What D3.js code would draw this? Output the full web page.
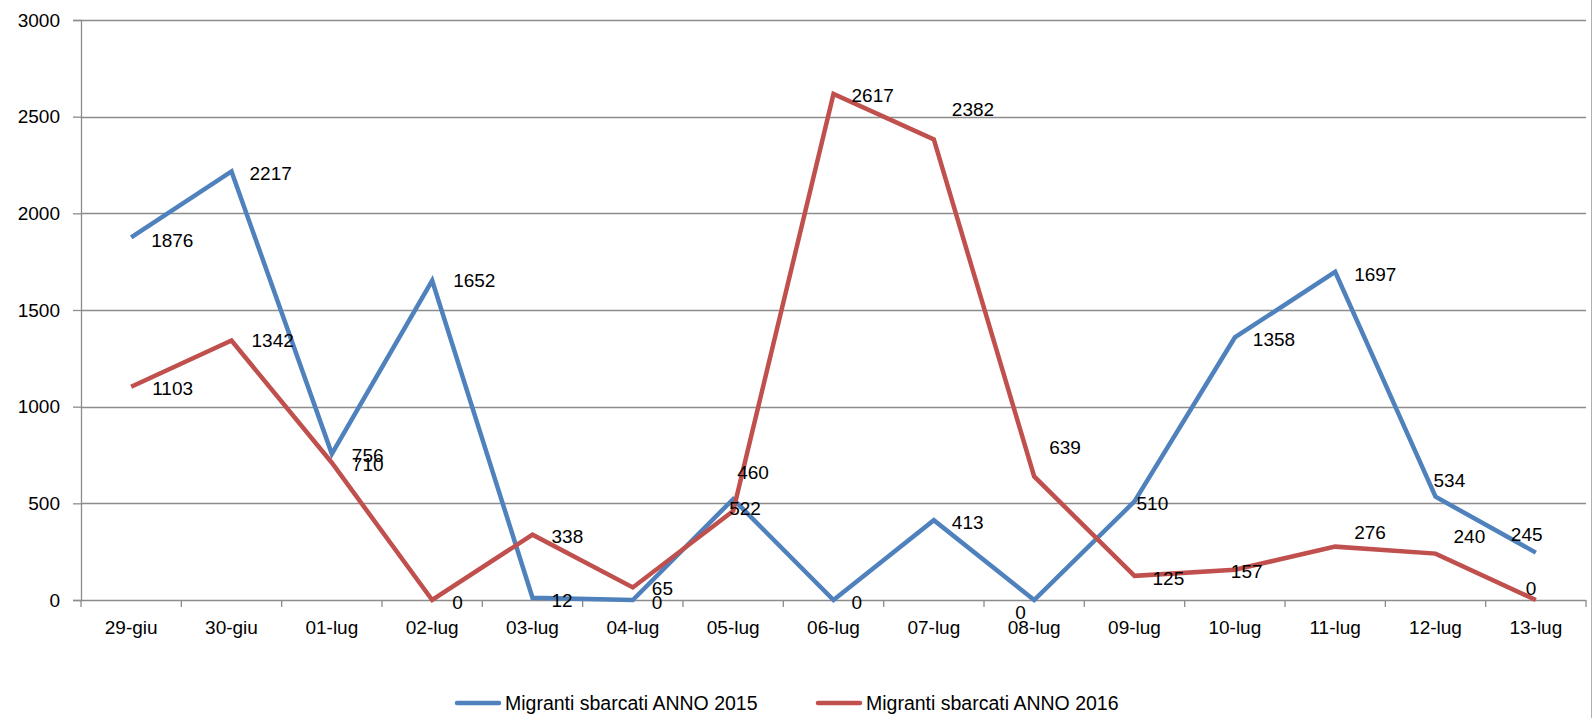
<!DOCTYPE html>
<html>
<head>
<meta charset="utf-8">
<script src="https://cdn.jsdelivr.net/npm/d3@7"></script>
<style>
  html, body { margin: 0; padding: 0; background: #fff; }
  svg { display: block; font-family: "Liberation Sans", Arial, sans-serif; }
</style>
</head>
<body>
<svg id="chart" width="1593" height="718"></svg>
<script>
// ---- data ----
const categories = ["29-giu","30-giu","01-lug","02-lug","03-lug","04-lug","05-lug","06-lug","07-lug","08-lug","09-lug","10-lug","11-lug","12-lug","13-lug"];
const series2015 = [1876, 2217, 756, 1652, 12, 0, 522, 0, 413, 0, 510, 1358, 1697, 534, 245];
const series2016 = [1103, 1342, 710, 0, 338, 65, 460, 2617, 2382, 639, 125, 157, 276, 240, 0];
const seriesNames = ["Migranti sbarcati ANNO 2015", "Migranti sbarcati ANNO 2016"];
const yTicks = [0, 500, 1000, 1500, 2000, 2500, 3000];
// label placement offsets (dx from point to label start, dy from point to label middle)
const labelDx2015 = [20, 18, 20, 21, 19, 19, -4, 18, 18, -19, 2, 18, 19, -2, -25];
const labelDy2015 = [3, 2, 1, 0, 2, 2, 9, 2, 2, 12, 2, 2, 2, -17, -18];
const labelDx2016 = [21, 20, 20, 20, 19, 19, 4, 18, 18, 15, 18, -4, 19, 18, -10];
const labelDy2016 = [1, 0, 1, 2, 2, 1, -39, 1, -30, -29, 2, 2, -14, -17, -12];

const colors = ["#4F81BD", "#C0504D"];
const gridColor = "#8c8c8c";
const axisColor = "#8c8c8c";

const svg = d3.select("#chart");
const mLeft = 81, mRight = 1586, mTop = 20, mBottom = 600;

const xBand = d3.scaleBand().domain(categories).range([mLeft, mRight]).paddingInner(0).paddingOuter(0);
const xPos = c => xBand(c) + xBand.bandwidth() / 2;
const y = d3.scaleLinear().domain([0, 3000]).range([mBottom, mTop]);

// chart border line at right
svg.append("line").attr("x1", 1591.5).attr("x2", 1591.5).attr("y1", 0).attr("y2", 718)
  .attr("stroke", "#b0b0b0").attr("stroke-width", 1);

// gridlines
svg.append("g").selectAll("line").data(yTicks.filter(d => d > 0)).join("line")
  .attr("x1", mLeft).attr("x2", mRight)
  .attr("y1", d => Math.round(y(d)) + 0.5).attr("y2", d => Math.round(y(d)) + 0.5)
  .attr("stroke", gridColor).attr("stroke-width", 1.3);

// y axis
const yAxis = svg.append("g").attr("transform", `translate(${mLeft},0)`)
  .call(d3.axisLeft(y).tickValues(yTicks).tickSize(8).tickPadding(13).tickFormat(d3.format("d")));
yAxis.select(".domain").attr("stroke", axisColor).attr("stroke-width", 1.3);
yAxis.selectAll(".tick line").attr("stroke", axisColor).attr("stroke-width", 1.3);
yAxis.selectAll(".tick text").attr("font-size", 19).attr("fill", "#000")
  .attr("font-family", "Liberation Sans, Arial, sans-serif");

// x axis baseline + boundary ticks
svg.append("line").attr("x1", mLeft).attr("x2", mRight).attr("y1", mBottom + 0.5).attr("y2", mBottom + 0.5)
  .attr("stroke", axisColor).attr("stroke-width", 1.3);
const bounds = categories.map(c => xBand(c)).concat([mRight]);
svg.append("g").selectAll("line").data(bounds).join("line")
  .attr("x1", d => d).attr("x2", d => d).attr("y1", mBottom).attr("y2", mBottom + 7)
  .attr("stroke", axisColor).attr("stroke-width", 1.3);

const xAxis = svg.append("g").attr("transform", `translate(0,${mBottom})`)
  .call(d3.axisBottom(xBand).tickSize(0).tickPadding(21));
xAxis.select(".domain").remove();
xAxis.selectAll(".tick text").attr("font-size", 19).attr("fill", "#000")
  .attr("font-family", "Liberation Sans, Arial, sans-serif");

// lines
const allSeries = [series2015, series2016];
const line = d3.line().x((d, i) => xPos(categories[i])).y(d => y(d));
allSeries.forEach((s, k) => {
  svg.append("path").datum(s).attr("d", line)
    .attr("fill", "none").attr("stroke", colors[k]).attr("stroke-width", 4.5)
    .attr("stroke-linejoin", "miter").attr("stroke-linecap", "butt");
});

// labels
const dxs = [labelDx2015, labelDx2016], dys = [labelDy2015, labelDy2016];
allSeries.forEach((s, k) => {
  svg.append("g").selectAll("text").data(s).join("text")
    .attr("x", (d, i) => xPos(categories[i]) + dxs[k][i])
    .attr("y", (d, i) => y(d) + dys[k][i])
    .attr("dy", "0.36em")
    .attr("font-size", 19).attr("fill", "#000")
    .text(d => d);
});

// legend
const legendItems = [
  { x1: 457, x2: 499, tx: 505, name: seriesNames[0], color: colors[0] },
  { x1: 818, x2: 860, tx: 866, name: seriesNames[1], color: colors[1] }
];
const ly = 703;
legendItems.forEach(it => {
  svg.append("line").attr("x1", it.x1).attr("x2", it.x2).attr("y1", ly).attr("y2", ly)
    .attr("stroke", it.color).attr("stroke-width", 4.5).attr("stroke-linecap", "round");
  svg.append("text").attr("x", it.tx).attr("y", ly).attr("dy", "0.36em")
    .attr("font-size", 19.5).attr("fill", "#000")
    .text(it.name);
});
</script>
</body>
</html>
